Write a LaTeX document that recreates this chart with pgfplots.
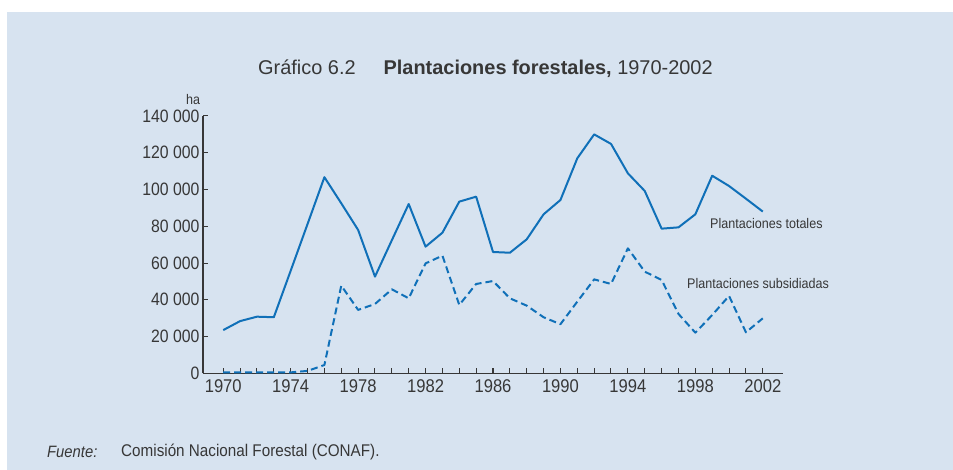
\documentclass[border=0pt]{standalone}
\usepackage{fontspec}
\setmainfont{Liberation Sans}
\newfontfamily\condfont[FakeStretch=0.88]{Liberation Sans}
\newfontfamily\midfont[FakeStretch=0.9]{Liberation Sans}
\usepackage{pgfplots}
\pgfplotsset{compat=1.18}
\definecolor{bg}{RGB}{215,227,240}
\definecolor{ln}{RGB}{16,112,184}
\definecolor{tx}{RGB}{55,55,55}
\begin{document}
\begin{tikzpicture}[x=1bp,y=1bp]
\fill[white] (0,0) rectangle (953,470);
\fill[bg] (7,0) rectangle (953,458);
\begin{axis}[
  at={(203bp,96.7bp)}, anchor=south west,
  scale only axis, width=580bp, height=257.3bp,
  xmin=1968.8, xmax=2003.2, ymin=0, ymax=140000,
  axis x line*=bottom, axis y line*=left,
  axis line style={tx, line width=1.2bp, -},
  tick align=inside, major tick length=5bp, minor tick length=5bp,
  tick style={tx, line width=1bp},
  xtick={1970,1974,...,2002}, minor xtick={1970,...,2002},
  xticklabels={1970,1974,1978,1982,1986,1990,1994,1998,2002},
  ytick={0,20000,...,140000},
  yticklabels={0,20 000,40 000,60 000,80 000,100 000,120 000,140 000},
  scaled y ticks=false,
  xticklabel style={font=\midfont\fontsize{18.5}{18.5}\selectfont, text=tx, yshift=-3bp},
  yticklabel style={font=\condfont\fontsize{18}{18}\selectfont, text=tx},
  clip=false,
]
\addplot[ln, line width=2bp, line join=round] table {
1970 23500
1971 28400
1972 30800
1973 30500
1974 55800
1975 81200
1976 106700
1977 92500
1978 78000
1979 52600
1980 72400
1981 92100
1982 68900
1983 76500
1984 93400
1985 96100
1986 66000
1987 65600
1988 72900
1989 86500
1990 94300
1991 117000
1992 130000
1993 124800
1994 108800
1995 99200
1996 78700
1997 79400
1998 86500
1999 107500
2000 101900
2001 95000
2002 88000
};
\addplot[ln, line width=2bp, line join=round, dash pattern=on 7bp off 4bp] table {
1970 500
1971 500
1972 500
1973 500
1974 500
1975 1300
1976 4500
1977 47700
1978 34500
1979 37700
1980 45700
1981 40800
1982 59800
1983 64000
1984 37200
1985 48600
1986 50200
1987 40800
1988 36800
1989 30500
1990 26700
1991 39000
1992 51100
1993 48600
1994 68000
1995 55300
1996 50800
1997 32300
1998 22100
1999 31700
2000 42100
2001 22300
2002 29900
};
\end{axis}
\node[text=tx, font=\fontsize{20}{20}\selectfont, anchor=base west, inner sep=0pt] at (258,395) {Gráfico 6.2\hspace{28bp}\textbf{Plantaciones forestales,} 1970-2002};
\node[text=tx, font=\midfont\fontsize{14}{14}\selectfont] at (193,370) {ha};
\node[text=tx, font=\midfont\fontsize{14}{14}\selectfont, anchor=west, inner sep=0pt] at (710,246) {Plantaciones totales};
\node[text=tx, font=\midfont\fontsize{14}{14}\selectfont, anchor=west, inner sep=0pt] at (687,186) {Plantaciones subsidiadas};
\node[text=tx, font=\midfont\fontsize{16.5}{16.5}\selectfont\itshape, anchor=west, inner sep=0pt] at (47,18) {Fuente:};
\node[text=tx, font=\midfont\fontsize{17}{17}\selectfont, anchor=west, inner sep=0pt] at (121,18) {Comisión Nacional Forestal (CONAF).};
\end{tikzpicture}
\end{document}
